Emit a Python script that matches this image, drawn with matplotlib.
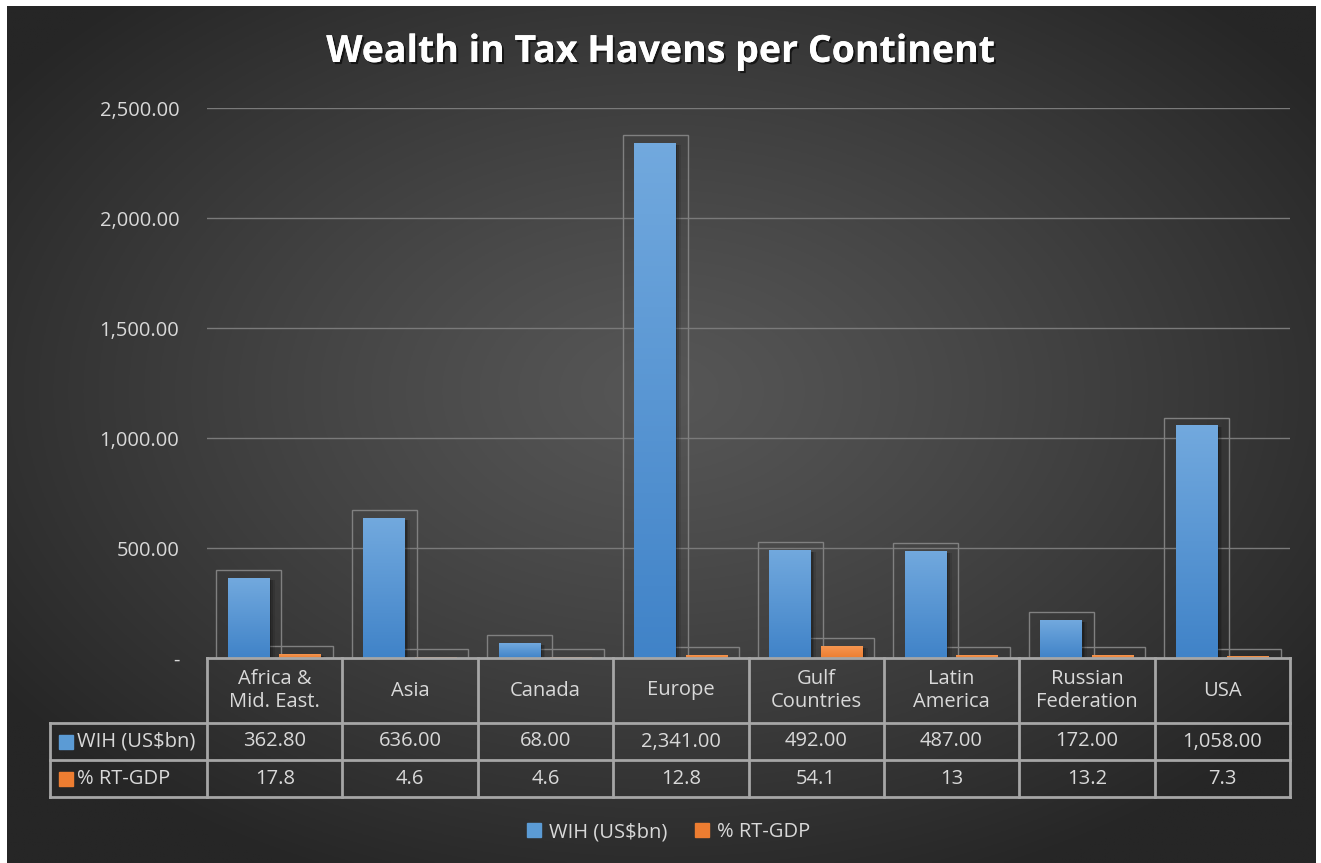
import matplotlib.pyplot as plt
import matplotlib.patheffects as pe
import matplotlib.transforms as mtransforms
from matplotlib.patches import Rectangle
from matplotlib.lines import Line2D
import numpy as np

plt.rcParams['font.family'] = ['Open Sans', 'DejaVu Sans']

# data
categories = ["Africa &\nMid. East.", "Asia", "Canada", "Europe",
              "Gulf\nCountries", "Latin\nAmerica", "Russian\nFederation", "USA"]
wih = [362.8, 636.0, 68.0, 2341.0, 492.0, 487.0, 172.0, 1058.0]
rt_gdp = [17.8, 4.6, 4.6, 12.8, 54.1, 13, 13.2, 7.3]
series_names = ["WIH (US$bn)", "% RT-GDP"]
yticks = [0, 500, 1000, 1500, 2000, 2500]

W, H = 1321, 863
blue = '#5b9bd5'
orange = '#ed7d31'
txt = '#d9d9d9'
line_c = '#a6a6a6'
fs = 14.5

fig = plt.figure(figsize=(W / 100, H / 100), dpi=100)
fig.patch.set_facecolor('white')

# radial dark background
bg = fig.add_axes([7 / W, 0, 1 - 12 / W, 1 - 6 / H], zorder=-10)
yy, xx = np.mgrid[0:1:400j, 0:1:600j]
r = np.sqrt(((xx - 0.5) / 0.62) ** 2 + ((yy - 0.55) / 0.62) ** 2)
t = np.clip(r, 0, 1) ** 1.2
c0 = np.array([86, 86, 86]) / 255
c1 = np.array([38, 38, 38]) / 255
img = c0[None, None, :] * (1 - t[..., None]) + c1[None, None, :] * t[..., None]
bg.imshow(img, extent=[0, 1, 0, 1], aspect='auto', origin='lower')
bg.axis('off')

ax = fig.add_axes([207 / W, 1 - 658 / H, 1083 / W, 550 / H])
ax.set_facecolor('none')
n = len(categories)
ax.set_xlim(0, n)
ax.set_ylim(0, 2500)
for s in ax.spines.values():
    s.set_visible(False)
ax.set_xticks([])
ax.set_yticks(yticks)
ax.set_yticklabels(['-' if v == 0 else f"{v:,.2f}" for v in yticks],
                   color=txt, fontsize=fs)
ax.tick_params(axis='y', length=0, pad=20)
for v in yticks[1:]:
    ax.axhline(v, color='#7a7a7a', lw=1, zorder=0)

x = np.arange(n)
bw = 0.31
offs = [0.31, 0.69]
grad = np.linspace(0, 1, 100)[:, None]

def draw_series(vals, off, top_c, bot_c):
    bars = ax.bar(x + off, vals, width=bw, color=bot_c, zorder=3)
    for b, v in zip(bars, vals):
        bx, by, bwid, bh = b.get_x(), b.get_y(), b.get_width(), b.get_height()
        # outline frame behind
        ax.add_patch(Rectangle((bx + bwid / 2 - 0.24, 0), 0.48, v + 35,
                               fill=False, ec='#808080', lw=1, zorder=1))
        # soft shadow
        for k, a in [(0.035, 0.10), (0.022, 0.15), (0.01, 0.2)]:
            ax.add_patch(Rectangle((bx + k, 0), bwid, max(v - 10, 0),
                                   color='black', alpha=a, lw=0, zorder=2))
        cm = np.array(top_c) * (1 - grad) + np.array(bot_c) * grad
        im = ax.imshow(cm[:, None, :].repeat(2, axis=1),
                       extent=[bx, bx + bwid, by, by + bh],
                       aspect='auto', origin='upper', zorder=3.5)
        im.set_clip_path(b)

draw_series(wih, offs[0], (114 / 255, 169 / 255, 222 / 255), (64 / 255, 131 / 255, 200 / 255))
draw_series(rt_gdp, offs[1], (245 / 255, 150 / 255, 80 / 255), (237 / 255, 125 / 255, 49 / 255))

# data table below the plot
tr = mtransforms.blended_transform_factory(ax.transData, ax.transAxes)
h_head = 65 / 550
h_row = 37 / 550
y1 = -h_head
y2 = y1 - h_row
y3 = y2 - h_row
left = -157 / (1083 / n)
kw = dict(color=line_c, lw=2, transform=tr, clip_on=False, zorder=5)
ax.plot([0, n], [0, 0], **kw)
for yv in (y1, y2, y3):
    ax.plot([left, n], [yv, yv], **kw)
ax.plot([left, left], [y1, y3], **kw)
for k in range(n + 1):
    ax.plot([k, k], [0, y3], **kw)

for i, c in enumerate(categories):
    ax.text(i + 0.5, y1 / 2, c, ha='center', va='center', color=txt,
            fontsize=fs, transform=tr, linespacing=1.15)
    ax.text(i + 0.5, (y1 + y2) / 2, f"{wih[i]:,.2f}", ha='center', va='center',
            color=txt, fontsize=fs, transform=tr)
    ax.text(i + 0.5, (y2 + y3) / 2, f"{rt_gdp[i]:g}", ha='center', va='center',
            color=txt, fontsize=fs, transform=tr)

for j, (name, col) in enumerate(zip(series_names, [blue, orange])):
    yc = (y1 + y2) / 2 - j * h_row
    ax.plot([left + 0.12], [yc], marker='s', ms=10, color=col, transform=tr,
            clip_on=False, ls='')
    ax.text(left + 0.2, yc, name, ha='left', va='center', color=txt,
            fontsize=fs, transform=tr)

# legend
handles = [Line2D([], [], marker='s', ls='', color=c, ms=10) for c in [blue, orange]]
fig.legend(handles, series_names, loc='center', bbox_to_anchor=(0.504, 1 - 832 / H),
           ncol=2, frameon=False, labelcolor=txt, fontsize=fs,
           handletextpad=0.15, columnspacing=1.1, handlelength=1.2)

fig.text(0.5, 1 - 52 / H, "Wealth in Tax Havens per Continent", ha='center',
         va='center', color='white', fontsize=27, fontweight='bold',
         path_effects=[pe.withSimplePatchShadow(offset=(1.5, -1.5),
                                                shadow_rgbFace='black', alpha=0.6),
                       pe.Normal()])

fig.savefig('out.png', dpi=100)
